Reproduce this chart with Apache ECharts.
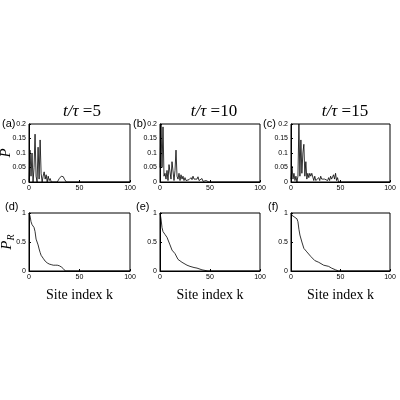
<!DOCTYPE html>
<html><head><meta charset="utf-8">
<script src="https://cdn.jsdelivr.net/npm/echarts@6/dist/echarts.min.js"></script>
<style>html,body{margin:0;padding:0;background:#fff}#c{width:400px;height:400px}</style>
</head><body><div id="c"></div>
<script>
// ---- data (site index k, probability) ----
const ticksX = [0, 50, 100];
const titles = ['5', '10', '15'];
const panelLabels = ['(a)', '(b)', '(c)', '(d)', '(e)', '(f)'];

const kA = [0,1,2,3,4,5,6,7,8,9,10,11,12,13,14,15,16,17,18,19,20,21,22,28,29,30,31,32,33,34,35,36,37,100];
const pA = [0,0.11,0.02,0.1,0,0.05,0.165,0.02,0,0.12,0.01,0.145,0.03,0,0.02,0.035,0.01,0.025,0,0.02,0.005,0.012,0,0,0.005,0.012,0.015,0.02,0.02,0.018,0.01,0.005,0,0];

const kB = [0,1,2,3,4,5,6,7,8,9,10,11,12,13,14,15,16,17,18,19,20,21,22,23,24,25,26,27,28,29,30,31,32,33,34,35,36,37,38,39,40,41,42,43,44,45,46,47,48,49,100];
const pB = [0.05,0.2,0.05,0.19,0.02,0.03,0.01,0.04,0.005,0.06,0.065,0.01,0.07,0.075,0.005,0.04,0.11,0.02,0.01,0.03,0.005,0.025,0.01,0.02,0.005,0.015,0.005,0.01,0.005,0.008,0.01,0.015,0.008,0.02,0.01,0.015,0.005,0.01,0.018,0.005,0.01,0.003,0.012,0.002,0.008,0,0.005,0,0.004,0,0];

const kC = [0,1,2,3,4,5,6,7,8,9,10,11,12,13,14,15,16,17,18,19,20,21,22,23,24,25,26,27,28,29,30,31,32,33,34,35,36,37,38,39,40,41,42,43,44,45,46,47,48,100];
const pC = [0.01,0.055,0.01,0.03,0.005,0.02,0,0.02,0.2,0.02,0.145,0.03,0.1,0.13,0.02,0.07,0.01,0.03,0.015,0.03,0.02,0.03,0.035,0.005,0.02,0.005,0.01,0,0.015,0.005,0.02,0.01,0.015,0.005,0.01,0.005,0.01,0.005,0.015,0.005,0.02,0.01,0.015,0.025,0.01,0.03,0.005,0.015,0,0];

const kD = [0,1,2,3,4,5,6,7,8,9,10,11,12,13,14,15,16,17,18,19,20,22,24,26,28,30,32,34,36,100];
const rD = [1,0.95,0.85,0.8,0.78,0.75,0.68,0.55,0.5,0.45,0.38,0.32,0.27,0.25,0.22,0.2,0.17,0.15,0.14,0.13,0.12,0.11,0.1,0.1,0.1,0.09,0.07,0.04,0,0];

const kE = [0,1,2,3,5,7,8,10,12,15,18,22,27,30,34,37,42,45,48,100];
const rE = [1,0.9,0.75,0.68,0.63,0.58,0.55,0.45,0.36,0.3,0.2,0.15,0.1,0.08,0.06,0.05,0.02,0.01,0,0];

const kF = [0,1,3,6,7,8,9,11,13,16,20,24,28,33,38,41,45,48,100];
const rF = [1,0.96,0.93,0.9,0.85,0.72,0.62,0.5,0.39,0.33,0.25,0.18,0.15,0.1,0.08,0.05,0.02,0,0];

const pairs = (ks, vs) => ks.map((k, i) => [k, vs[i]]);
const seriesData = [pairs(kA,pA), pairs(kB,pB), pairs(kC,pC), pairs(kD,rD), pairs(kE,rE), pairs(kF,rF)];

// ---- layout ----
const lefts = [29, 160, 291];
const widths = [101, 100, 99];
const tops = [124, 213];
const H = 58;
const tickFont = {color:'#000', fontSize:7, fontFamily:'Liberation Sans'};
const grids = [], xAxes = [], yAxes = [], series = [];
for (let r = 0; r < 2; r++) {
  for (let c = 0; c < 3; c++) {
    const i = r*3 + c;
    grids.push({left: lefts[c], top: tops[r], width: widths[c], height: H, show: true, borderColor:'#000', borderWidth: 1, backgroundColor:'#fff', containLabel:false, outerBoundsMode:'none'});
    xAxes.push({type:'value', gridIndex:i, min:0, max:100, interval:50,
      axisLine:{show:true, lineStyle:{color:'#000', width:1}},
      axisTick:{show:true, inside:true, length:2, lineStyle:{color:'#000'}},
      splitLine:{show:false},
      axisLabel:Object.assign({margin:3}, tickFont),
      name: r === 1 ? 'Site index k' : '',
      nameLocation:'middle', nameGap:17, nameMoveOverlap:false,
      nameTextStyle:{fontFamily:'Liberation Serif', fontSize:14, color:'#000'}
    });
    const yName = c === 0 ? (r === 0 ? '{p|P}' : '{p|P}{s|R}') : '';
    yAxes.push({type:'value', gridIndex:i, min:0, max: r === 0 ? 0.2 : 1, interval: r === 0 ? 0.05 : 0.5,
      axisLine:{show:true, lineStyle:{color:'#000', width:1}},
      axisTick:{show:true, inside:true, length:2, lineStyle:{color:'#000'}},
      splitLine:{show:false},
      axisLabel:Object.assign({margin:3}, tickFont),
      name: yName, nameLocation:'middle', nameRotate:90, nameGap: r === 0 ? 15 : 13, nameMoveOverlap:false,
      nameTextStyle:{color:'#000', rich:{
        p:{fontFamily:'Liberation Serif', fontStyle:'italic', fontSize:15, color:'#000'},
        s:{fontFamily:'Liberation Serif', fontStyle:'italic', fontSize:10, color:'#000', verticalAlign:'bottom', padding:[8,0,0,0]}
      }}
    });
    series.push({type:'line', xAxisIndex:i, yAxisIndex:i, data: seriesData[i], symbol:'none',
      lineStyle:{color:'#000', width:0.8}, animation:false});
  }
}

const graphics = [];
const labelPos = [[2,118],[133,118],[263,118],[5,201],[136,201],[268,201]];
panelLabels.forEach((t, i) => graphics.push({type:'text', x: labelPos[i][0], y: labelPos[i][1],
  style:{text:t, fontFamily:'Liberation Sans', fontSize:11, fill:'#000'}}));
const titleCx = [82, 214, 345];
titles.forEach((t, i) => graphics.push({type:'text', x: titleCx[i], y: 103,
  style:{text:'{i|t/τ} =' + t, textAlign:'center', fontFamily:'Liberation Serif', fontSize:17, fill:'#000',
    rich:{i:{fontFamily:'Liberation Serif', fontStyle:'italic', fontSize:17, fill:'#000'}}}}));

const chart = echarts.init(document.getElementById('c'));
chart.setOption({backgroundColor:'#fff', animation:false, grid:grids, xAxis:xAxes, yAxis:yAxes, series:series, graphic:graphics});
</script></body></html>
